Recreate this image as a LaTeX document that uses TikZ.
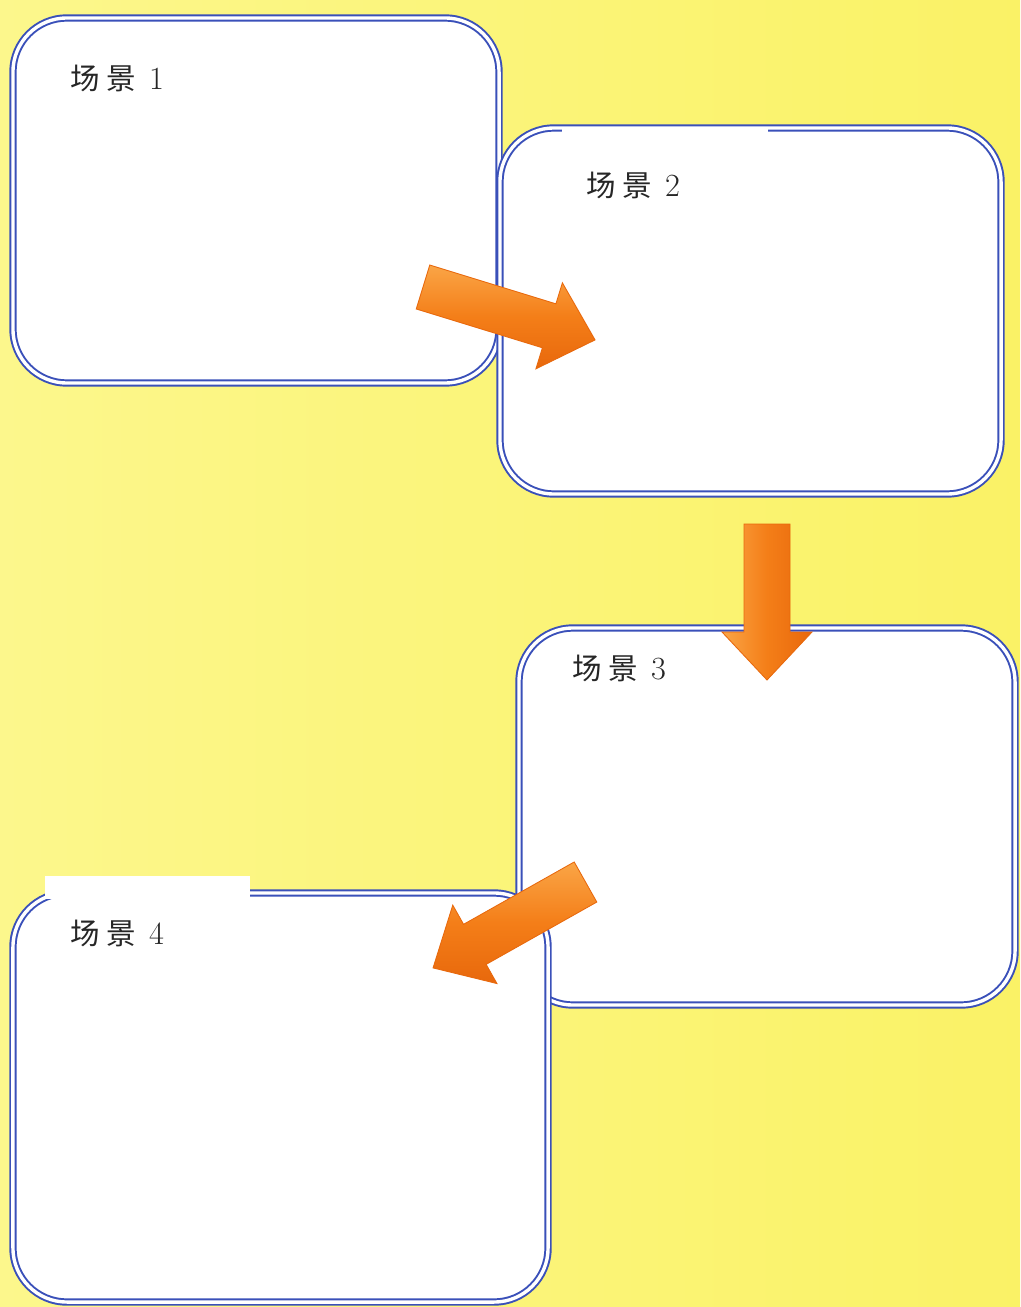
\documentclass[tikz,border=0pt]{standalone}
\usepackage{fontspec}
\newfontfamily\cjk{Noto Sans CJK SC}
\definecolor{paper}{RGB}{250,242,102}
\definecolor{paperlight}{RGB}{252,247,140}
\definecolor{boxline}{RGB}{58,80,185}
\definecolor{arrowlight}{RGB}{250,165,70}
\definecolor{arrowmid}{RGB}{244,126,24}
\definecolor{arrowdark}{RGB}{232,104,12}

% block arrow: tail coordinate, angle, length, shading
\newcommand\scenearrow[4]{%
  \begin{scope}[shift={(#1)}, rotate=#2]
    \shade[#4, draw=arrowdark, line width=0.6pt]
      (0,-23) -- (#3-48,-23) -- (#3-48,-45) -- (#3,0)
      -- (#3-48,45) -- (#3-48,23) -- (0,23) -- cycle;
  \end{scope}}
% label text: Chinese word and number
\newcommand\scenename[1]{{\cjk\fontsize{21}{24}\selectfont 场\hspace{5pt}景}\hspace{9pt}#1}

\begin{document}
\begin{tikzpicture}[x=0.025cm, y=-0.025cm]
    \tikzstyle{scenebox}=[rectangle, fill=white, draw=boxline, double=white,
        line width=1.4pt, double distance=2.4pt, rounded corners=1.35cm, inner sep=0pt]
    \tikzstyle{scene label}=[anchor=west, inner sep=0pt, text=black!85,
        font=\fontsize{23}{26}\selectfont]

    \useasboundingbox (0,0) rectangle (1020,1307);
    \shade[left color=paperlight, right color=paper] (0,0) rectangle (1020,1307);

    % Draw the four scene boxes
    \node[scenebox, minimum width=12.15cm, minimum height=9.125cm] (box1) at (256,200.5) {};
    \node[scenebox, minimum width=12.525cm, minimum height=9.15cm] (box2) at (750.5,311) {};
    \node[scenebox, minimum width=12.4cm, minimum height=9.425cm] (box3) at (767,816.5) {};
    \node[scenebox, minimum width=13.375cm, minimum height=10.225cm] (box4) at (280.5,1097.5) {};

    % white patches left on the borders
    \fill[white] (562,128.5) rectangle (768,134);
    \fill[white] (45,876) rectangle (250,899);

    % Labels
    \node[scene label] (label1) at (70,78) {\scenename{1}};
    \node[scene label] (label2) at (586,185) {\scenename{2}};
    \node[scene label] (label3) at (572,668) {\scenename{3}};
    \node[scene label] (label4) at (70,933) {\scenename{4}};

    % Arrows from one scene to the next
    \coordinate (tail1) at (423,287);
    \coordinate (tail2) at (767,524);
    \coordinate (tail3) at (585.5,882);
    \scenearrow{tail1}{-17.1}{180}{top color=arrowlight, bottom color=arrowdark, middle color=arrowmid}
    \scenearrow{tail2}{-90}{156}{left color=arrowlight, right color=arrowdark, middle color=arrowmid}
    \scenearrow{tail3}{-150.6}{175}{top color=arrowlight, bottom color=arrowdark, middle color=arrowmid}
\end{tikzpicture}
\end{document}
